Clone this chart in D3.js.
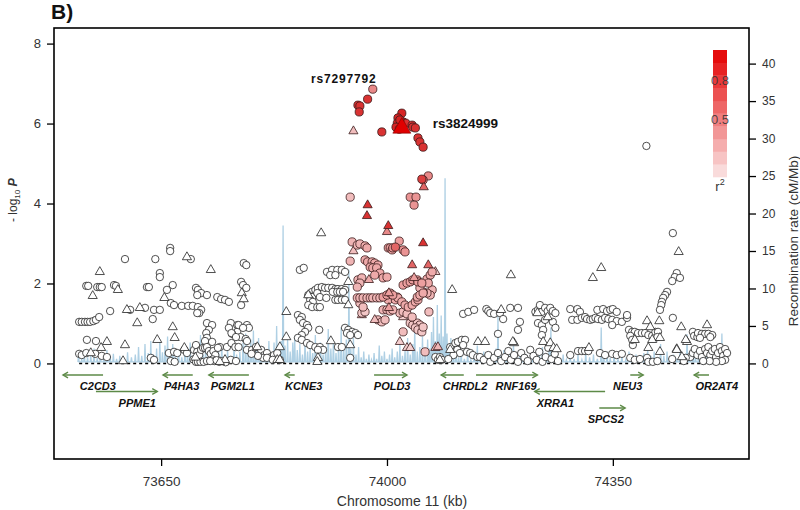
<!DOCTYPE html>
<html><head><meta charset="utf-8">
<script src="https://cdn.jsdelivr.net/npm/d3@7"></script>
<style>body{margin:0;background:#fff}svg{display:block}text{font-family:"Liberation Sans",Arial,sans-serif}</style>
</head><body><svg id="c" width="800" height="510"></svg>
<script>
// ---------------- data ----------------
const xDomain = [73484, 74561];          // kb
const yDomain = [-2.39, 8.39];           // -log10 P
const recombDomain = [-12.75, 44.75];    // cM/Mb
const leftTicks = [0, 2, 4, 6, 8];
const rightTicks = [0, 5, 10, 15, 20, 25, 30, 35, 40];
const xTicks = [73650, 74000, 74350];
const legendLabels = [0.8, 0.5];
const legendBands = [0, 1, 2, 3, 4, 5, 6, 7, 8, 9];
const baselineRange = [73523, 74527];

// recombination rate peaks [kb, cM/Mb] and local floor between peaks
const recombFloor = 0.2;
const recombPeaks = [
[73522,1.2],[73527,0.6],[73531,1.6],[73536,0.8],[73541,1.1],[73546,2.0],[73551,0.7],[73556,1.4],[73561,0.5],[73566,1.8],
[73571,0.9],[73576,1.3],[73581,0.6],[73586,1.0],[73592,0.7],[73598,1.5],[73604,0.8],[73610,1.2],[73615,2.2],[73620,1.0],
[73625,2.6],[73630,1.4],[73634,3.0],[73638,1.2],[73643,2.0],[73648,3.2],[73652,1.5],[73656,2.4],[73660,3.6],[73664,1.8],
[73668,2.6],[73672,1.0],[73677,1.6],[73682,0.8],[73687,2.0],[73691,1.2],[73695,2.8],[73699,1.0],[73703,1.8],[73707,2.4],
[73711,3.8],[73715,1.2],[73719,2.0],[73724,0.9],[73729,1.4],[73734,0.7],[73739,1.6],[73744,2.4],[73748,1.0],[73753,1.8],
[73758,0.8],[73763,2.6],[73767,1.2],[73772,1.6],[73777,2.8],[73781,4.0],[73785,1.8],[73789,3.2],[73793,4.4],[73797,2.0],
[73801,3.4],[73805,1.4],[73809,2.2],[73813,1.6],[73817,3.0],[73821,1.2],[73825,2.8],[73829,5.0],[73833,2.2],[73836,3.0],
[73839,18.4],[73842,2.4],[73846,3.2],[73850,1.6],[73854,2.8],[73857,3.6],[73861,1.8],[73865,2.6],[73869,1.2],[73873,3.2],
[73877,1.6],[73881,2.4],[73885,1.4],[73889,3.8],[73893,1.8],[73897,2.8],[73901,1.2],[73905,2.2],[73909,4.6],[73913,2.0],
[73917,3.0],[73921,1.4],[73925,2.6],[73929,4.8],[73933,2.2],[73937,3.2],[73941,12.5],[73944,2.0],[73948,3.4],[73952,1.2],
[73956,2.2],[73960,0.8],[73964,1.6],[73968,0.6],[73972,1.2],[73976,0.5],[73980,1.4],[73984,0.6],[73988,2.4],[73992,1.0],
[73996,1.6],[74000,0.6],[74004,1.2],[74008,2.0],[74012,0.8],[74016,1.6],[74020,2.6],[74024,1.0],[74028,1.8],[74032,3.4],
[74036,1.2],[74040,2.6],[74043,4.8],[74047,1.6],[74051,2.2],[74055,3.6],[74059,1.4],[74063,3.2],[74066,2.0],[74069,4.2],
[74072,6.2],[74075,3.0],[74078,7.8],[74081,4.0],[74084,6.4],[74087,3.6],[74090,24.7],[74093,4.0],[74096,2.2],[74099,3.4],
[74103,1.2],[74107,2.2],[74111,0.8],[74115,1.6],[74120,0.6],[74125,1.4],[74130,0.5],[74135,1.0],[74140,2.4],[74145,0.8],
[74150,1.6],[74155,0.6],[74160,1.2],[74165,0.8],[74169,2.0],[74172,6.4],[74176,1.2],[74181,1.8],[74186,0.7],[74191,1.4],
[74196,2.8],[74201,0.8],[74206,1.6],[74211,0.6],[74216,1.2],[74221,0.5],[74226,1.8],[74231,0.7],[74236,1.2],[74241,2.2],
[74246,0.9],[74251,1.6],[74254,4.8],[74258,1.2],[74263,2.0],[74268,0.7],[74273,1.2],[74278,0.5],[74284,1.0],[74290,0.6],
[74296,1.2],[74302,0.5],[74308,1.4],[74314,0.8],[74320,1.2],[74326,0.6],[74332,4.8],[74336,1.0],[74341,1.6],[74346,0.7],
[74352,1.2],[74358,0.6],[74364,1.0],[74370,0.5],[74375,1.6],[74380,0.8],[74386,1.2],[74392,0.6],[74398,1.4],[74404,2.0],
[74409,1.0],[74414,1.6],[74419,0.8],[74424,2.6],[74429,1.0],[74434,1.6],[74439,0.7],[74444,1.2],[74449,0.6],[74454,1.6],
[74459,1.0],[74465,3.9],[74469,1.4],[74474,2.2],[74478,1.0],[74483,1.8],[74487,0.8],[74492,2.4],[74496,1.2],[74500,2.0],
[74504,0.9],[74508,1.6],[74512,1.0],[74516,2.2],[74519,4.0],[74522,1.6],[74525,0.8]
];

// SNPs drawn as circles [kb, -log10P, r2]
const snpCircles = [
[73664,2.89,0],[73664,2.81,0],[73594,2.61,0],[73641,2.61,0],[73696,2.61,0],[73778,2.51,0],[73782,2.46,0],[73648,2.26,0],[73648,2.16,0],
[73534,1.94,0],[73537,1.94,0],[73551,1.91,0],[73555,1.91,0],[73558,1.91,0],[73577,1.96,0],[73580,1.94,0],[73628,1.91,0],[73631,1.91,0],[73668,1.96,0],[73659,1.84,0],
[73704,1.89,0],[73707,1.84,0],[73712,1.76,0],[73706,1.71,0],[73721,1.71,0],[73737,1.66,0],[73743,1.61,0],[73749,1.59,0],[73755,1.54,0],[73774,2.04,0],[73777,1.96,0],[73782,1.89,0],[73774,1.46,0],
[73665,1.51,0],[73670,1.46,0],[73682,1.44,0],[73692,1.44,0],[73699,1.44,0],[73707,1.41,0],[73712,1.34,0],[73709,1.26,0],[73706,1.26,0],
[73571,1.31,0],[73602,1.34,0],[73625,1.39,0],[73639,1.34,0],[73648,1.34,0],
[73523,1.04,0],[73527,1.04,0],[73532,1.04,0],[73536,1.04,0],[73540,1.04,0],[73545,1.06,0],[73549,1.09,0],[73554,1.16,0],[73637,1.11,0],
[73721,1.01,0],[73729,0.96,0],[73724,0.84,0],[73720,0.76,0],[73721,0.64,0],[73718,0.56,0],
[73758,1.01,0],[73768,0.96,0],[73768,0.79,0],[73783,0.96,0],[73786,0.89,0],[73760,0.74,0],[73773,0.66,0],
[73535,0.59,0],[73549,0.56,0],
[73523,0.24,0],[73527,0.21,0],[73534,0.26,0],[73548,0.24,0],[73558,0.19,0],[73566,0.16,0],
[73634,0.14,0],[73639,0.09,0],[73662,0.26,0],[73670,0.29,0],[73675,0.26,0],[73665,0.06,0],[73671,0.04,0],[73686,0.34,0],[73690,0.26,0],
[73701,0.34,0],[73704,0.46,0],[73706,0.29,0],[73709,0.21,0],[73712,0.34,0],[73715,0.39,0],[73718,0.39,0],[73721,0.41,0],[73724,0.31,0],[73727,0.24,0],
[73729,0.54,0],[73731,0.31,0],[73734,0.21,0],[73730,0.1,0],[73733,0.06,0],[73700,0.1,0],[73704,0.04,0],[73707,0.04,0],[73711,0.04,0],[73716,0.04,0],
[73721,0.06,0],[73726,0.06,0],[73740,0.04,0],[73745,0.06,0],[73750,0.03,0],[73736,0.08,0],[73741,0.41,0],[73752,0.41,0],[73738,0.39,0],[73755,0.89,0],
[73759,0.76,0],[73766,0.66,0],[73770,0.96,0],[73777,0.89,0],[73759,0.51,0],[73765,0.41,0],[73770,0.41,0],[73781,0.61,0],[73783,0.56,0],[73758,0.09,0],[73766,0.06,0],
[73783,0.34,0],[73791,0.34,0],[73797,0.41,0],[73805,0.34,0],[73810,0.21,0],[73814,0.26,0],[73820,0.16,0],[73825,0.21,0],[73830,0.26,0],[73808,0.14,0],
[73814,0.14,0],[73823,0.09,0],[73834,0.09,0],[73800,0.19,0],[73790,0.24,0],
[73865,2.34,0],[73871,2.39,0],[73907,2.29,0],[73915,2.34,0],[73923,2.34,0],[73930,2.34,0],[73935,2.29,0],[73912,2.21,0],[73920,2.21,0],
[73884,1.79,0],[73889,1.84,0],[73893,1.89,0],[73899,1.91,0],[73904,1.89,0],[73909,1.89,0],[73915,1.89,0],[73920,1.86,0],[73924,1.86,0],[73930,1.86,0],[73935,1.84,0],
[73878,1.71,0],[73884,1.66,0],[73892,1.76,0],[73896,1.66,0],[73916,1.79,0],[73923,1.79,0],[73927,1.79,0],[73932,1.79,0],
[73881,1.59,0],[73885,1.54,0],[73878,1.46,0],[73884,1.41,0],[73892,1.41,0],[73896,1.41,0],[73906,1.64,0],[73920,1.59,0],[73924,1.59,0],[73930,1.59,0],[73935,1.59,0],
[73862,1.21,0],[73868,1.16,0],[73865,1.09,0],[73870,1.01,0],[73876,0.96,0],[73878,0.89,0],[73873,0.79,0],[73868,0.71,0],
[73862,0.64,0],[73868,0.59,0],[73876,0.51,0],[73881,0.46,0],[73889,0.41,0],[73896,0.41,0],[73901,0.34,0],[73893,0.34,0],[73895,0.84,0],
[73935,0.89,0],[73940,0.84,0],[73946,0.79,0],[73951,0.76,0],[73955,0.71,0],[73938,0.76,0],[73943,0.71,0],[73924,0.41,0],[73930,0.41,0],[73943,0.14,0],
[73946,3.04,0.35],[73954,2.96,0.35],[73958,2.99,0.35],[73966,2.94,0.4],[73969,2.89,0.4],[73943,2.56,0.35],
[74002,2.89,0.45],[74005,2.89,0.45],[74009,2.89,0.5],[74013,2.91,0.7],[74008,2.84,0.45],[74019,3.06,0.45],[74025,2.84,0.5],[74028,2.79,0.5],
[73966,2.59,0.4],[73970,2.54,0.4],[73977,2.54,0.4],[73981,2.51,0.4],[73986,2.46,0.4],[73974,2.41,0.4],[73978,2.39,0.4],[73984,2.39,0.4],[73989,2.26,0.4],[73981,2.21,0.4],
[73955,2.09,0.35],[73961,2.14,0.35],[73958,2.01,0.35],[73954,1.91,0.35],[73994,2.14,0.4],[74000,2.16,0.4],
[74025,1.96,0.45],[74031,2.01,0.45],[74036,2.04,0.45],[74040,2.09,0.45],[74047,2.09,0.45],[74048,2.04,0.45],[74054,2.01,0.45],
[74062,2.11,0.4],[74067,2.21,0.4],[74070,2.29,0.4],[74064,2.01,0.4],
[74070,1.84,0.35],[74067,1.71,0.35],[74062,1.76,0.35],[74056,1.79,0.35],[74051,1.89,0.35],
[73954,1.64,0.35],[73958,1.64,0.35],[73963,1.64,0.35],[73969,1.64,0.35],[73974,1.64,0.35],[73978,1.64,0.35],[73984,1.64,0.35],[73989,1.64,0.35],
[73994,1.66,0.45],[74000,1.71,0.45],[74005,1.76,0.45],[74009,1.71,0.45],[74016,1.66,0.4],[74008,1.64,0.4],[74002,1.59,0.4],[74013,1.59,0.4],
[73958,1.51,0.3],[73963,1.41,0.3],
[74017,1.64,0.4],[74023,1.54,0.4],[74028,1.46,0.4],[74033,1.41,0.4],[74039,1.46,0.4],[74044,1.54,0.4],[74048,1.59,0.4],[74047,1.66,0.4],[74051,1.71,0.4],[74056,1.76,0.4],
[73994,1.34,0.35],[74000,1.34,0.35],[74005,1.31,0.35],[74009,1.34,0.35],
[73986,1.09,0.3],[73992,1.04,0.3],[73997,1.09,0.3],[74020,1.26,0.3],[74025,1.29,0.3],[74031,1.24,0.3],[74039,1.16,0.3],[74065,1.29,0.3],
[74036,1.01,0.25],[74040,0.96,0.25],[74047,1.01,0.25],[74051,0.96,0.25],[74044,0.89,0.25],[74048,0.84,0.25],[74054,0.79,0.25],[74056,0.91,0.25],
[74025,0.79,0.3],[74059,0.29,0.3],[73961,1.26,0.25],[73966,1.29,0.25],
[74075,0.16,0],[74079,0.09,0],[74082,0.16,0],[74085,0.09,0],
[73970,6.61,0.9],[73978,6.86,0.55],[73955,6.46,0.9],[73958,6.44,0.9],[73957,6.29,0.9],[73992,5.79,0.9],
[74023,6.26,0.95],[74017,6.14,0.95],[74016,6.01,0.95],[74020,6.09,0.95],[74014,5.91,0.95],[74025,6.04,0.9],[74029,6.01,0.9],[74039,5.96,0.9],[74040,5.91,0.9],[74044,5.89,0.9],[74019,5.86,0.95],
[74048,5.64,0.9],[74051,5.54,0.9],[74056,5.41,0.9],
[74064,4.69,0.55],[74054,4.61,0.85],[74056,4.59,0.6],
[74036,4.16,0.5],[74045,4.16,0.5],[74042,3.96,0.5],[73943,4.16,0.3],
[74402,5.44,0],[74443,3.26,0],[74449,2.26,0],[74446,2.16,0],[74442,2.06,0],[74454,2.14,0],
[74434,1.79,0],[74431,1.71,0],[74428,1.64,0],[74426,1.54,0],[74425,1.46,0],[74423,1.34,0],[74443,1.14,0],
[74118,1.24,0],[74126,1.29,0],[74135,1.34,0],[74154,1.36,0],[74157,1.31,0],[74160,1.26,0],[74166,1.24,0],[74175,1.26,0],[74191,1.39,0],[74203,1.39,0],
[74172,0.74,0],[74180,1.11,0],[74206,1.04,0],[74203,0.84,0],
[74230,1.29,0],[74234,1.34,0],[74237,1.46,0],[74240,1.29,0],[74245,1.39,0],[74249,1.31,0],[74253,1.39,0],[74257,1.31,0],[74261,1.26,0],
[74234,1.01,0],[74240,0.96,0],[74245,1.09,0],[74242,0.84,0],[74240,0.71,0],[74257,1.04,0],[74261,0.89,0],
[74284,1.36,0],[74295,1.36,0],[74299,1.29,0],[74287,1.09,0],[74295,1.09,0],[74302,1.14,0],[74307,1.16,0],
[74310,1.11,0],[74315,1.09,0],[74319,1.11,0],[74323,1.14,0],[74327,1.11,0],[74333,1.09,0],[74338,1.14,0],[74343,1.11,0],[74349,1.09,0],[74356,1.06,0],[74364,1.04,0],[74372,1.14,0],
[74326,1.34,0],[74335,1.36,0],[74341,1.31,0],[74346,1.34,0],[74350,1.36,0],[74356,1.29,0],[74372,1.21,0],[74349,0.96,0],
[74375,0.84,0],[74380,0.79,0],[74384,0.79,0],[74389,0.76,0],[74395,0.76,0],[74400,0.76,0],[74405,0.71,0],[74411,0.69,0],[74416,0.79,0],[74420,0.79,0],[74419,0.66,0],[74377,0.69,0],[74381,0.46,0],[74380,0.59,0],
[74284,0.21,0],[74296,0.31,0],[74302,0.31,0],[74307,0.31,0],[74312,0.31,0],[74330,0.26,0],[74338,0.21,0],[74349,0.24,0],[74356,0.21,0],[74364,0.24,0],
[74377,0.14,0],[74384,0.09,0],[74392,0.11,0],[74403,0.14,0],[74405,0.04,0],[74412,0.04,0],[74419,0.06,0],
[74474,0.79,0],[74476,0.69,0],[74481,0.66,0],[74482,0.76,0],[74488,0.74,0],[74493,0.74,0],[74498,0.74,0],[74504,0.71,0],[74485,0.64,0],[74501,0.66,0],
[74470,0.16,0],[74474,0.26,0],[74477,0.36,0],[74481,0.21,0],[74485,0.31,0],[74488,0.16,0],[74493,0.36,0],[74496,0.26,0],[74498,0.41,0],[74501,0.21,0],
[74504,0.31,0],[74508,0.36,0],[74510,0.16,0],[74513,0.26,0],[74516,0.41,0],[74519,0.31,0],[74521,0.19,0],[74524,0.36,0],[74527,0.26,0],[74524,0.09,0],
[74519,0.06,0],[74510,0.04,0],[74500,0.06,0],[74490,0.06,0],[74463,0.14,0],[74460,0.06,0],[74442,0.11,0],
[74098,0.41,0],[74106,0.51,0],[74110,0.54,0],[74116,0.59,0],[74121,0.59,0],[74118,0.46,0],[74109,0.34,0],[74113,0.26,0],[74124,0.29,0],[74129,0.26,0],
[74133,0.21,0],[74140,0.16,0],[74144,0.16,0],[74103,0.21,0],[74095,0.11,0],
[74150,0.09,0],[74157,0.21,0],[74160,0.04,0],[74166,0.14,0],[74172,0.26,0],[74177,0.06,0],[74183,0.16,0],[74188,0.31,0],[74192,0.09,0],[74197,0.21,0],
[74203,0.04,0],[74208,0.26,0],[74213,0.14,0],[74218,0.06,0],[74222,0.34,0],[74227,0.19,0],[74232,0.09,0],[74236,0.29,0],[74241,0.04,0],[74246,0.16,0],
[74250,0.39,0],[74255,0.11,0],[74260,0.24,0],[74265,0.06,0]
];

// SNPs drawn as triangles [kb, -log10P, r2]
const snpTriangles = [
[73898,3.26,0],[73583,1.84,0],[73555,2.29,0],[73727,2.34,0],[73690,2.66,0],[73775,1.76,0],[73778,1.61,0],[73544,1.69,0],[73655,1.64,0],[73597,1.34,0],
[73617,1.39,0],[73613,1.01,0],[73668,0.91,0],[73671,0.64,0],[73566,0.54,0],[73594,0.46,0],[73644,0.59,0],[73557,0.39,0],[73541,0.26,0],[73591,0.06,0],
[73686,0.39,0],[73799,0.41,0],[73834,0.41,0],[73830,0.09,0],[73834,0.09,0],[73844,1.29,0],[73844,0.66,0],[73878,1.71,0],[73940,2.04,0],[73940,1.46,0],
[73913,0.56,0],[73943,0.46,0],[73893,0.14,0],[73892,0.04,0],[73703,0.15,0],[73749,0.09,0],[73741,0.04,0],
[74101,1.84,0],[74192,2.21,0],[74332,2.39,0],[74319,2.14,0],[74177,1.34,0],[74197,0.51,0],[74233,1.26,0],[74249,1.16,0],[74141,0.54,0],[74152,0.54,0],
[74195,0.54,0],[74242,0.54,0],[74253,0.51,0],[74313,0.39,0],[74403,1.06,0],[74405,0.39,0],[74411,0.59,0],[74422,1.06,0],[74423,0.64,0],[74408,0.91,0],
[74452,2.79,0],[74456,0.91,0],[74449,0.36,0],[74465,0.54,0],[74496,0.96,0],[74384,0.59,0],[74463,0.59,0],[74423,0.29,0],[74449,0.34,0],[74457,0.16,0],
[74098,0.34,0],[74082,0.09,0],[74258,0.39,0],[74263,0.36,0],
[73970,3.96,0.9],[73969,3.69,0.9],[74002,3.44,0.9],[74000,3.29,0.55],[74056,3.01,0.9],[74039,2.46,0.7],[74064,2.46,0.7],[74057,4.41,0.7],[73948,5.81,0.3],
[73948,2.81,0.3],[73972,2.09,0.4],[74042,2.14,0.45],[74075,2.29,0.2],[74003,1.76,0.45],[74003,1.39,0.45],[73961,1.21,0.2],[73981,1.09,0.3],[74025,1.16,0.2],
[74020,0.54,0.2],[74031,0.39,0.2],[74036,0.39,0.2],[74075,0.39,0.35],[74079,0.41,0.35]
];

// index SNP and annotated SNPs
const indexSnp = [74023, 5.89];
const snpLabels = [
  {name: "rs7297792", kb: 73933, p: 7.01, anchor: "middle", size: 12, spacing: 0.8},
  {name: "rs3824999", kb: 74071, p: 5.89, anchor: "start", size: 13.5, spacing: 0}
];

// genes: start, end (kb), strand, row, label centre (kb)
const genes = [
  {name:"C2CD3",  start:73498, end:73560, strand:-1, row:0, label:73552},
  {name:"PPME1",  start:73549, end:73644, strand: 1, row:1, label:73613},
  {name:"P4HA3",  start:73653, end:73699, strand:-1, row:0, label:73682},
  {name:"PGM2L1", start:73724, end:73786, strand:-1, row:0, label:73761},
  {name:"KCNE3",  start:73842, end:73857, strand:-1, row:0, label:73871},
  {name:"POLD3",  start:73980, end:74031, strand: 1, row:0, label:74008},
  {name:"CHRDL2", start:74084, end:74119, strand:-1, row:0, label:74121},
  {name:"RNF169", start:74138, end:74233, strand: 1, row:0, label:74200},
  {name:"XRRA1",  start:74229, end:74338, strand:-1, row:1, label:74261},
  {name:"NEU3",   start:74377, end:74397, strand: 1, row:0, label:74373},
  {name:"SPCS2",  start:74329, end:74369, strand: 1, row:2, label:74339},
  {name:"OR2AT4", start:74476, end:74499, strand:-1, row:0, label:74511}
];

// ---------------- drawing ----------------
const svg = d3.select("#c");
const L = 54, T = 28, R = 749, B = 459;
const x = d3.scaleLinear().domain(xDomain).range([L, R]);
const y = d3.scaleLinear().domain(yDomain).range([B, T]);
const yR = d3.scaleLinear().domain(recombDomain).range([B, T]);
const colorInterp = d3.interpolateRgb("#f8e6e6", "#d41616");
const fillFor = r2 => r2 < 0.1 ? "#ffffff" : colorInterp(Math.pow(r2, 1.35));

svg.append("defs").append("clipPath").attr("id","clip")
  .append("rect").attr("x",L).attr("y",T).attr("width",R-L).attr("height",B-T);

const plot = svg.append("g").attr("clip-path","url(#clip)");

// recombination rate: narrow peaks rising from the local floor
const recombPts = [];
recombPeaks.forEach(d => {
  recombPts.push([d[0] - 0.9, recombFloor], [d[0], d[1]], [d[0] + 0.9, recombFloor]);
});
plot.append("path").datum(recombPts)
  .attr("d", d3.line().x(d=>x(d[0])).y(d=>yR(d[1])))
  .attr("fill","none").attr("stroke","#afd0e4").attr("stroke-width",1.3)
  .attr("stroke-linejoin","miter");

// dashed baseline
plot.append("line")
  .attr("x1", x(baselineRange[0])).attr("x2", x(baselineRange[1]))
  .attr("y1", y(0)).attr("y2", y(0))
  .attr("stroke","#000").attr("stroke-width",1.6).attr("stroke-dasharray","3,3");

// points
const pts = [];
snpCircles.forEach(d => pts.push({kb:d[0], p:d[1], r2:d[2], shape:"c"}));
snpTriangles.forEach(d => pts.push({kb:d[0], p:d[1], r2:d[2], shape:"t"}));
pts.sort((a,b) => a.r2 - b.r2);
const tri = d3.symbol().type(d3.symbolTriangle).size(36);
const g = plot.append("g");
pts.forEach(d => {
  const stroke = d.r2 < 0.1 ? "#222" : "#3a1a1a";
  if (d.shape === "c") {
    g.append("circle").attr("cx", x(d.kb)).attr("cy", y(d.p))
      .attr("r", d.r2 < 0.1 ? 3.7 : 4.1)
      .attr("fill", fillFor(d.r2)).attr("stroke", stroke).attr("stroke-width", 0.8);
  } else {
    g.append("path").attr("d", tri)
      .attr("transform", `translate(${x(d.kb)},${y(d.p)})`)
      .attr("fill", fillFor(d.r2)).attr("stroke", stroke).attr("stroke-width", 0.8);
  }
});
g.append("path").attr("d", d3.symbol().type(d3.symbolTriangle).size(140))
  .attr("transform", `translate(${x(indexSnp[0])},${y(indexSnp[1])})`)
  .attr("fill","#e00000").attr("stroke","#7a0000").attr("stroke-width",0.6);

// snp labels
snpLabels.forEach(s => {
  svg.append("text").attr("x", x(s.kb)).attr("y", y(s.p))
    .attr("text-anchor", s.anchor).attr("font-size", s.size).attr("font-weight","bold")
    .attr("letter-spacing", s.spacing).attr("fill","#111").text(s.name);
});

// genes
const gg = svg.append("g");
const green = "#5d8a47";
genes.forEach(gn => {
  const gy = 375 + gn.row * 16.5;
  const x0 = x(gn.start), x1 = x(gn.end);
  gg.append("line").attr("x1",x0).attr("x2",x1).attr("y1",gy).attr("y2",gy)
    .attr("stroke",green).attr("stroke-width",1.5);
  const tip = gn.strand > 0 ? x1 : x0, dir = gn.strand > 0 ? -1 : 1;
  gg.append("path").attr("d", `M${tip+dir*5},${gy-2.8}L${tip},${gy}L${tip+dir*5},${gy+2.8}`)
    .attr("fill","none").attr("stroke",green).attr("stroke-width",1.4);
  gg.append("text").attr("x", x(gn.label)).attr("y", gy + 15)
    .attr("text-anchor","middle").attr("font-size",11).attr("font-weight","bold")
    .attr("font-style","italic").attr("fill","#111").text(gn.name);
});

// frame
svg.append("rect").attr("x",L).attr("y",T).attr("width",R-L).attr("height",B-T)
  .attr("fill","none").attr("stroke","#000").attr("stroke-width",1.6);

// axes
const ax = (sel) => { sel.select(".domain").remove(); sel.selectAll("line").attr("stroke","#000").attr("stroke-width",1.3); };
svg.append("g").attr("transform",`translate(${L},0)`)
  .call(d3.axisLeft(y).tickValues(leftTicks).tickSize(7).tickPadding(6))
  .call(ax).selectAll("text").attr("font-size",13).attr("fill","#333").style("font-family",'"Liberation Sans",Arial,sans-serif');
svg.append("g").attr("transform",`translate(${R},0)`)
  .call(d3.axisRight(yR).tickValues(rightTicks).tickSize(7).tickPadding(6))
  .call(ax).selectAll("text").attr("font-size",12).attr("fill","#333").style("font-family",'"Liberation Sans",Arial,sans-serif');
svg.append("g").attr("transform",`translate(0,${B})`)
  .call(d3.axisBottom(x).tickValues(xTicks).tickSize(7).tickPadding(10).tickFormat(d3.format("d")))
  .call(ax).selectAll("text").attr("font-size",13.5).attr("fill","#333").style("font-family",'"Liberation Sans",Arial,sans-serif');

// axis titles
svg.append("text").attr("x",402).attr("y",506).attr("text-anchor","middle")
  .attr("font-size",14).attr("fill","#333").text("Chromosome 11 (kb)");
svg.append("text").attr("transform","translate(797.5,241) rotate(-90)").attr("text-anchor","middle")
  .attr("font-size",13.5).attr("fill","#333").text("Recombination rate (cM/Mb)");
const yl = svg.append("text").attr("transform","translate(17,200) rotate(-90)").attr("text-anchor","middle")
  .attr("font-size",12).attr("fill","#333");
yl.append("tspan").text("- log");
yl.append("tspan").attr("font-size",8).attr("dy",3).text("10");
yl.append("tspan").attr("dy",-3).text(" ");
yl.append("tspan").attr("font-weight","bold").attr("font-style","italic").attr("font-size",12.5).text("P");

// panel title
svg.append("text").attr("x",51).attr("y",19).attr("font-size",21).attr("font-weight","bold")
  .attr("fill","#111").text("B)");

// r2 legend
const ly = d3.scaleLinear().domain([0,1]).range([177,50]);
const lg = svg.append("g");
legendBands.forEach(i => {
  lg.append("rect").attr("x",713).attr("width",14)
    .attr("y", ly((i+1)/10)).attr("height", ly(i/10) - ly((i+1)/10) + 0.3)
    .attr("fill", d3.interpolateRgb("#fae6e6", "#e40000")((i+0.5)/10));
});
legendLabels.forEach(v => {
  lg.append("text").attr("x",720).attr("y", ly(v)+10).attr("text-anchor","middle")
    .attr("font-size",13).attr("fill","#333").attr("fill-opacity",0.85).text(v.toFixed(1));
});
const r2t = lg.append("text").attr("x",720).attr("y",191).attr("text-anchor","middle")
  .attr("font-size",13).attr("fill","#333");
r2t.append("tspan").text("r");
r2t.append("tspan").attr("font-size",9).attr("dy",-6).text("2");
</script></body></html>
